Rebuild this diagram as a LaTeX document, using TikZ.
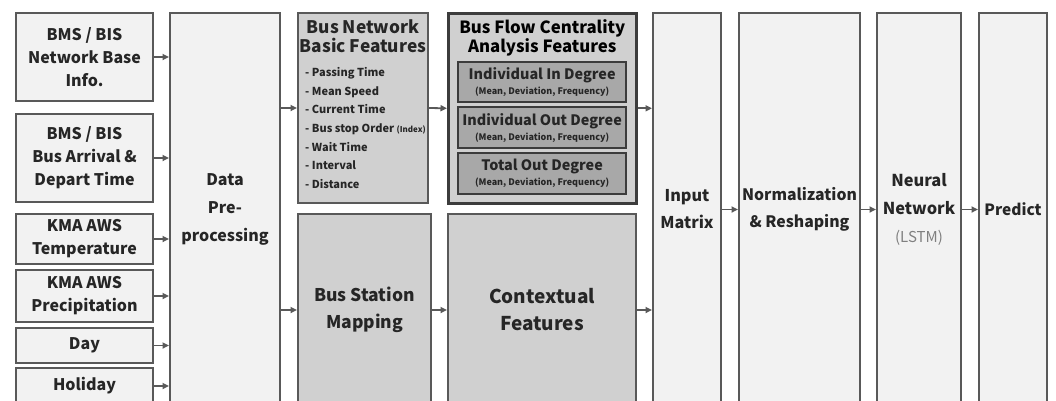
\documentclass[tikz,border=0pt]{standalone}
\usepackage{fontspec}
\setmainfont{Noto Sans CJK KR}
\usetikzlibrary{arrows.meta}
\definecolor{edge}{HTML}{595959}
\definecolor{pale}{HTML}{F2F2F2}
\definecolor{mid}{HTML}{D0D0D0}
\definecolor{deep}{HTML}{A8A8A8}
\definecolor{ink}{HTML}{262626}
\definecolor{soft}{HTML}{808080}
\tikzset{
  blk/.style={draw=edge, line width=2pt, fill=pale, text=ink, align=center,
    inner sep=0pt, anchor=north west,
    font=\fontsize{16}{23}\selectfont\bfseries},
  midblk/.style={blk, fill=mid},
  darkblk/.style={blk, fill=mid, draw=ink!90, line width=2.6pt},
  innerblk/.style={blk, fill=deep, draw=ink!90, line width=2.2pt},
  title/.style={text=ink, align=center, inner sep=0pt,
    font=\fontsize{17.3}{19}\selectfont\bfseries},
  arr/.style={draw=edge, line width=1.8pt, -{Triangle[length=6.5pt,width=6pt]}},
}
\begin{document}
\begin{tikzpicture}[x=1pt, y=-1pt]
\useasboundingbox (0,0) rectangle (1056,400);
\clip (0,0) rectangle (1056,400);

% input sources
\node[blk, minimum width=137, minimum height=88] (in1) at (15,12) {BMS / BIS\\Network Base\\Info.};
\node[blk, minimum width=137, minimum height=88] (in2) at (15,113) {BMS / BIS\\Bus Arrival \&\\Depart Time};
\node[blk, minimum width=137, minimum height=50] (in3) at (15,213) {KMA AWS\\Temperature};
\node[blk, minimum width=137, minimum height=52] (in4) at (15,269) {KMA AWS\\Precipitation};
\node[blk, minimum width=137, minimum height=35] (in5) at (15,327) {Day};
\node[blk, minimum width=137, minimum height=36] (in6) at (15,367) {Holiday};

% preprocessing
\node[blk, minimum width=110, minimum height=393, font=\fontsize{16}{28}\selectfont\bfseries] (prep) at (169,12) {Data\\Pre-\\processing};

% feature blocks
\node[midblk, minimum width=130, minimum height=190] (bnf) at (297,12) {};
\node[title, anchor=north] (bnft) at ([yshift=-7]bnf.north) {Bus Network\\Basic Features};
\node[text=ink, align=left, inner sep=0pt, anchor=north west,
  font=\fontsize{11}{18.7}\selectfont\bfseries] (bnfl) at (305,67)
  {- Passing Time\\- Mean Speed\\- Current Time\\- Bus stop Order {\fontsize{8}{10}\selectfont(Index)}\\- Wait Time\\- Interval\\- Distance};

\node[midblk, minimum width=133, minimum height=192, font=\fontsize{17.5}{27}\selectfont\bfseries] (bsm) at (297,213) {Bus Station\\Mapping};

\node[darkblk, minimum width=188, minimum height=190] (bfc) at (447,12) {};
\node[title, text=black, anchor=north, font=\fontsize{16.8}{19}\selectfont\bfseries] (bfct) at ([yshift=-7]bfc.north) {Bus Flow Centrality\\Analysis Features};
\node[innerblk, minimum width=168, minimum height=40, font=\fontsize{14.4}{15}\selectfont\bfseries] (deg1) at (457,61)
  {Individual In Degree\\{\fontsize{9}{10}\selectfont (Mean, Deviation, Frequency)}};
\node[innerblk, minimum width=168, minimum height=41, font=\fontsize{14.4}{15}\selectfont\bfseries] (deg2) at (457,106)
  {Individual Out Degree\\{\fontsize{9}{10}\selectfont (Mean, Deviation, Frequency)}};
\node[innerblk, minimum width=168, minimum height=41, font=\fontsize{14.4}{15}\selectfont\bfseries] (deg3) at (457,152)
  {Total Out Degree\\{\fontsize{9}{10}\selectfont (Mean, Deviation, Frequency)}};

\node[midblk, minimum width=188, minimum height=192, font=\fontsize{19}{27}\selectfont\bfseries] (ctx) at (447,213) {Contextual\\Features};

% model stages
\node[blk, minimum width=68, minimum height=393, font=\fontsize{16.2}{27}\selectfont\bfseries] (inm) at (652,12) {Input\\Matrix};
\node[blk, minimum width=121, minimum height=393, font=\fontsize{15.8}{27}\selectfont\bfseries] (norm) at (738,12) {Normalization\\\& Reshaping};
\node[blk, minimum width=84, minimum height=393, font=\fontsize{16.4}{28}\selectfont\bfseries] (nn) at (876,12)
  {Neural\\Network\\{\color{soft}\fontsize{15}{28}\selectfont\mdseries (LSTM)}};
\node[blk, minimum width=68, minimum height=393, font=\fontsize{15.5}{27}\selectfont\bfseries] (pred) at (978,12) {Predict};

% connectors
\foreach \s in {in1,in2,in3,in4,in5,in6}
  \draw[arr] (\s.east) -- (\s.east -| prep.west);
\draw[arr] (prep.east |- bnf.west) -- (bnf.west);
\draw[arr] (prep.east |- bsm.west) -- (bsm.west);
\draw[arr] (bnf.east) -- (bfc.west);
\draw[arr] (bsm.east) -- (ctx.west);
\draw[arr] (bfc.east) -- (bfc.east -| inm.west);
\draw[arr] (ctx.east) -- (ctx.east -| inm.west);
\draw[arr] (inm.east) -- (norm.west);
\draw[arr] (norm.east) -- (nn.west);
\draw[arr] (nn.east) -- (pred.west);
\end{tikzpicture}
\end{document}
